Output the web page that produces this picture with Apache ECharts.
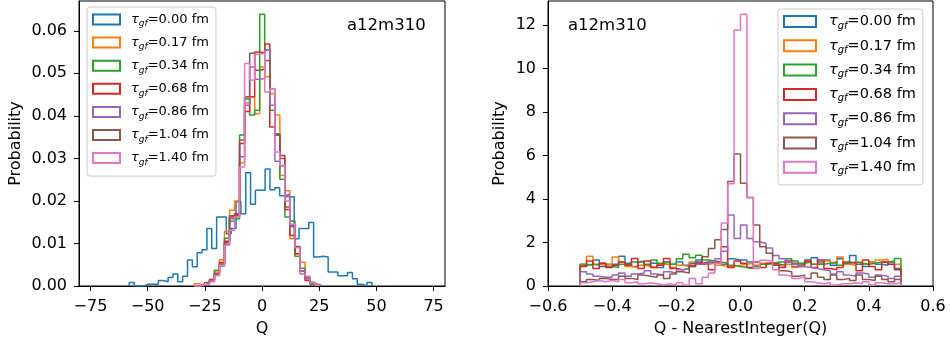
<!DOCTYPE html>
<html>
<head>
<meta charset="utf-8">
<script src="https://cdn.jsdelivr.net/npm/echarts@6/dist/echarts.min.js"></script>
<style>
  html, body { margin: 0; background: #fff; }
  #chart { width: 950px; height: 345px; }
</style>
</head>
<body>
<div id="chart"></div>
<script>
// flow times and matplotlib tab10 colours
const tauLabels = ['0.00', '0.17', '0.34', '0.68', '0.86', '1.04', '1.40'];
const colors = ['#1f77b4', '#ff7f0e', '#2ca02c', '#d62728', '#9467bd', '#8c564b', '#e377c2'];

// left panel: histogram of Q (density)
const qBlueStart = -58, qBlueWidth = 2.12;
const qTau000 = [
  0.0008, 0, 0, 0.0004, 0.0004, 0.0004, 0.0013, 0.001, 0.002, 0.0028,
  0.001, 0.0023, 0.0061, 0.0045, 0.0078, 0.0085, 0.0135, 0.0088, 0.0162, 0.0162,
  0.0123, 0.0135, 0.0198, 0.017, 0.0266, 0.0192, 0.0225, 0.0225, 0.0275, 0.0226,
  0.0231, 0.0212, 0.0215, 0.021, 0.0111, 0.0135, 0.0135, 0.0149, 0.0068, 0.007,
  0.0068, 0.0033, 0.0033, 0.0024, 0.0024, 0.0032, 0.0017, 0.0004, 0, 0.0008
];
const qStart = -29.6, qWidth = 2.2;
const qTau017 = [0.0005, 0.0002, 0.0005, 0.0014, 0.0035, 0.0062, 0.0128, 0.0178, 0.02, 0.029,
  0.043, 0.0445, 0.0405, 0.0515, 0.0492, 0.0452, 0.0402, 0.026, 0.0224, 0.0111,
  0.0076, 0.0056, 0.0021, 0.0007, 0.0002];
const qTau034 = [0, 0.0002, 0.0005, 0.0012, 0.0037, 0.0047, 0.0112, 0.0152, 0.0158, 0.0355,
  0.044, 0.0402, 0.0413, 0.0639, 0.0555, 0.0413, 0.0358, 0.0251, 0.0162, 0.0153,
  0.007, 0.0042, 0.0017, 0.0009, 0.0002];
const qTau068 = [0, 0.0002, 0.0005, 0.0015, 0.003, 0.0055, 0.0105, 0.0162, 0.017, 0.0335,
  0.041, 0.0445, 0.055, 0.0548, 0.0569, 0.0374, 0.0355, 0.0307, 0.018, 0.0119,
  0.0076, 0.0035, 0.0013, 0.0005, 0.0003];
const qTau086 = [0, 0.0002, 0.0005, 0.001, 0.0025, 0.005, 0.0098, 0.0158, 0.0165, 0.0304,
  0.0425, 0.0515, 0.0486, 0.0488, 0.0555, 0.0425, 0.0293, 0.0282, 0.021, 0.0139,
  0.0092, 0.0035, 0.0017, 0.0005, 0.0002];
const qTau104 = [0, 0.0003, 0.0008, 0.0013, 0.0028, 0.0052, 0.0102, 0.0165, 0.0168, 0.0343,
  0.0445, 0.0547, 0.0507, 0.051, 0.053, 0.0464, 0.0355, 0.03, 0.0186, 0.0143,
  0.0093, 0.0029, 0.0021, 0.0004, 0.0002];
const qTau140 = [0, 0.0003, 0.0005, 0.0011, 0.0024, 0.0049, 0.0096, 0.0131, 0.0162, 0.028,
  0.0523, 0.0484, 0.0545, 0.0547, 0.0456, 0.0464, 0.0315, 0.0284, 0.02, 0.0145,
  0.009, 0.0029, 0.0023, 0.0007, 0.0002];

// right panel: histogram of Q - NearestInteger(Q)
const dStart = -0.5, dWidth = 0.02;
const dTau000 = [1.0, 0.95, 1.2, 0.9, 1.0, 1.0, 1.37, 1.05, 0.9, 1.1,
  0.95, 1.05, 0.85, 1.1, 1.0, 1.1, 0.95, 1.05, 1.2, 1.0,
  1.1, 1.1, 1.0, 1.25, 1.2, 1.2, 1.1, 0.9, 1.0, 1.05,
  1.0, 0.95, 1.1, 0.9, 1.0, 1.2, 1.3, 1.1, 1.2, 0.95,
  1.25, 1.05, 1.4, 1.0, 0.9, 1.1, 1.0, 0.95, 1.1, 0.8];
const dTau017 = [1.0, 1.37, 1.0, 0.95, 1.0, 1.33, 1.1, 0.9, 0.85, 0.95,
  0.9, 0.85, 1.0, 1.0, 0.85, 0.95, 0.9, 1.1, 1.05, 1.0,
  1.05, 0.95, 0.9, 0.9, 0.95, 1.0, 1.05, 0.95, 1.05, 1.0,
  0.95, 0.9, 1.0, 0.85, 0.95, 1.1, 1.0, 1.05, 1.15, 1.05,
  1.33, 1.0, 0.95, 1.1, 1.0, 1.1, 1.2, 1.23, 1.0, 1.0];
const dTau034 = [0.95, 1.0, 0.95, 1.05, 0.9, 0.85, 1.0, 0.95, 1.1, 1.15,
  1.0, 1.2, 1.05, 1.1, 1.0, 1.25, 1.46, 1.3, 1.41, 1.2,
  1.15, 1.1, 1.05, 0.95, 0.9, 0.85, 0.8, 0.9, 1.0, 1.05,
  1.1, 1.1, 1.25, 1.15, 1.05, 1.1, 1.0, 1.0, 1.05, 1.1,
  0.95, 1.05, 1.1, 1.05, 1.0, 1.05, 1.1, 1.1, 1.15, 1.26];
const dTau068 = [0.9, 1.15, 0.8, 1.05, 0.85, 0.95, 1.1, 0.95, 1.26, 0.8,
  1.15, 0.85, 0.95, 1.26, 0.8, 0.75, 0.8, 0.95, 1.05, 1.1,
  0.75, 1.1, 1.8, 0.85, 1.15, 1.05, 0.85, 1.1, 0.85, 1.05,
  0.95, 0.85, 1.15, 1.05, 0.9, 1.15, 0.85, 1.2, 0.8, 0.75,
  0.85, 1.1, 1.05, 0.7, 1.2, 0.9, 0.75, 1.1, 1.0, 0.75];
const dTau086 = [0.65, 0.55, 0.45, 0.4, 0.4, 0.5, 0.6, 0.45, 0.55, 0.6,
  0.7, 0.55, 0.5, 0.65, 0.6, 0.75, 0.8, 0.9, 1.0, 1.05,
  1.1, 1.25, 1.6, 3.26, 2.18, 2.8, 2.18, 2.03, 1.95, 1.75,
  1.4, 1.25, 1.1, 1.0, 0.9, 0.85, 0.8, 0.75, 0.7, 0.55,
  0.65, 0.5, 0.45, 0.6, 0.55, 0.4, 0.5, 0.45, 0.35, 0.45];
const dTau104 = [0.2, 0.3, 0.25, 0.35, 0.3, 0.3, 0.45, 0.35, 0.3, 0.5,
  0.45, 0.4, 0.5, 0.35, 0.55, 0.65, 0.6, 0.9, 1.1, 1.34,
  1.72, 2.13, 2.6, 4.8, 6.07, 4.72, 4.07, 2.8, 1.8, 1.5,
  1.03, 0.7, 0.65, 0.45, 0.5, 0.35, 0.6, 0.4, 0.3, 0.5,
  0.3, 0.35, 0.25, 0.5, 0.3, 0.25, 0.45, 0.3, 0.2, 0.3];
const dTau140 = [0.15, 0.2, 0.25, 0.2, 0.25, 0.2, 0.3, 0.15, 0.2, 0.1,
  0.15, 0.1, 0.05, 0.1, 0.05, 0.15, 0.05, 0.35, 0.1, 0.4,
  0.6, 1.04, 2.9, 4.7, 11.75, 12.49, 4.07, 0.8, 1.18, 1.15,
  0.75, 0.5, 0.45, 0.35, 0.4, 0.2, 0.15, 0.1, 0.15, 0.05,
  0.1, 0.1, 0.15, 0.1, 0.2, 0.05, 0.15, 0.1, 0.1, 0.15];

// axis ticks
const qTicks = [-75, -50, -25, 0, 25, 50, 75];
const pTicksLeft = [0, 0.01, 0.02, 0.03, 0.04, 0.05, 0.06];
const dTicks = [-0.6, -0.4, -0.2, 0, 0.2, 0.4, 0.6];
const pTicksRight = [0, 2, 4, 6, 8, 10, 12];

const leftSets = [
  [qBlueStart, qBlueWidth, qTau000],
  [qStart, qWidth, qTau017],
  [qStart, qWidth, qTau034],
  [qStart, qWidth, qTau068],
  [qStart, qWidth, qTau086],
  [qStart, qWidth, qTau104],
  [qStart, qWidth, qTau140]
];
const rightSets = [dTau000, dTau017, dTau034, dTau068, dTau086, dTau104, dTau140]
  .map(v => [dStart, dWidth, v]);

// outline of a step histogram: points at bin edges, drawn with step 'start'
function stepPoints(start, width, values) {
  const pts = [[start, 0]];
  values.forEach((v, i) => pts.push([start + (i + 1) * width, v]));
  pts.push([start + values.length * width, 0]);
  return pts;
}

const FONT = 'DejaVu Sans';
const minus = s => String(s).replace('-', '\u2212');
const names = tauLabels.map(t => 'tau' + t);

function legendFor(left, top, fs, subFs, lh, iw, ih, gap, pad, textPad) {
  return {
    left, top,
    orient: 'vertical',
    selectedMode: false,
    data: names.map(n => ({ name: n, icon: 'emptyRect' })),
    itemWidth: iw,
    itemHeight: ih,
    itemGap: gap,
    padding: pad,
    backgroundColor: 'rgba(255,255,255,0.8)',
    borderColor: '#cccccc',
    borderWidth: 1,
    borderRadius: 3,
    formatter: n => '{t|\u03c4}{s|gf}{n|=' + n.slice(3) + ' fm}',
    textStyle: {
      color: '#000',
      fontFamily: FONT,
      rich: {
        t: { fontFamily: FONT, fontSize: fs, fontStyle: 'italic', lineHeight: lh, padding: [0, 0, 0, textPad] },
        s: { fontFamily: FONT, fontSize: subFs, fontStyle: 'italic', lineHeight: subFs, verticalAlign: 'bottom' },
        n: { fontFamily: FONT, fontSize: fs, lineHeight: lh }
      }
    }
  };
}

function valueAxis(gridIndex, min, max, ticks, fmt, name, nameGap, isY) {
  return {
    type: 'value',
    gridIndex, min, max,
    name, nameLocation: 'middle', nameGap,
    nameTextStyle: { color: '#000', fontFamily: FONT, fontSize: 16 },
    axisLine: { show: true, onZero: false, lineStyle: { color: '#000', width: 1 } },
    axisTick: { show: true, length: 5, customValues: ticks, lineStyle: { color: '#000', width: 1 } },
    axisLabel: {
      customValues: ticks, formatter: fmt, margin: isY ? 12 : 13,
      color: '#000', fontFamily: FONT, fontSize: 16
    },
    splitLine: { show: false }
  };
}

const series = [];
leftSets.forEach(([s, w, v], i) => series.push({
  name: names[i], type: 'line', xAxisIndex: 0, yAxisIndex: 0,
  data: stepPoints(s, w, v), step: 'start', showSymbol: false, symbol: 'none',
  color: colors[i], lineStyle: { width: 1.5, color: colors[i] }, z: 2 + i
}));
rightSets.forEach(([s, w, v], i) => series.push({
  name: names[i], type: 'line', xAxisIndex: 1, yAxisIndex: 1,
  data: stepPoints(s, w, v), step: 'start', showSymbol: false, symbol: 'none',
  color: colors[i], lineStyle: { width: 1.5, color: colors[i] }, z: 2 + i
}));

const chart = echarts.init(document.getElementById('chart'), null, { renderer: 'canvas' });
chart.setOption({
  animation: false,
  backgroundColor: '#fff',
  grid: [
    { left: 79, top: 1, width: 366, height: 285, show: true, borderColor: '#000', borderWidth: 1, backgroundColor: 'transparent' },
    { left: 548, top: 1, width: 385, height: 285, show: true, borderColor: '#000', borderWidth: 1, backgroundColor: 'transparent' }
  ],
  xAxis: [
    valueAxis(0, -80, 80, qTicks, v => minus(v), 'Q', 35, false),
    valueAxis(1, -0.6, 0.6, dTicks, v => minus(v.toFixed(1)), 'Q - NearestInteger(Q)', 35, false)
  ],
  yAxis: [
    valueAxis(0, 0, 0.067, pTicksLeft, v => v.toFixed(2), 'Probability', 55, true),
    valueAxis(1, 0, 13.1, pTicksRight, v => String(v), 'Probability', 40, true)
  ],
  legend: [
    legendFor(87, 7, 13, 9, 18, 27, 10, 7.6, [6, 7, 9, 5], 6),
    legendFor(778, 9, 14.5, 10, 19, 32, 11, 7.3, [5, 7, 8, 5], 8)
  ],
  graphic: [
    { type: 'text', left: 347, top: 17, style: { text: 'a12m310', fill: '#000', font: '16.5px "DejaVu Sans"' } },
    { type: 'text', left: 568, top: 17, style: { text: 'a12m310', fill: '#000', font: '16.5px "DejaVu Sans"' } }
  ],
  series
});
</script>
</body>
</html>
